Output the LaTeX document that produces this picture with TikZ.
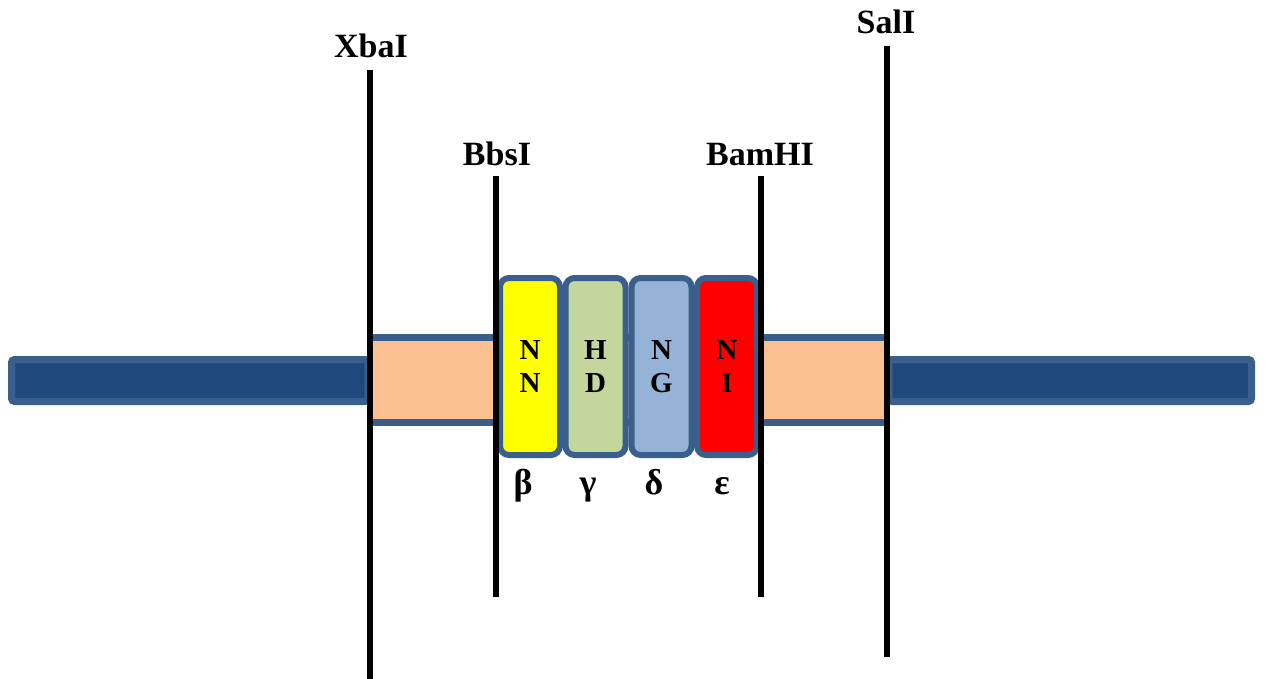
\documentclass[tikz,border=0pt]{standalone}
\usepackage{fontspec}
\setmainfont{Liberation Serif}
\definecolor{bbdark}{HTML}{1F497D}
\definecolor{bbedge}{HTML}{3A5F8C}
\definecolor{insertfill}{HTML}{FAC090}
\definecolor{rvdyellow}{HTML}{FFFF00}
\definecolor{rvdgreen}{HTML}{C3D69B}
\definecolor{rvdblue}{HTML}{95B3D7}
\definecolor{rvdred}{HTML}{FF0000}
\tikzset{
  backbone/.style={fill=bbdark, draw=bbedge, line width=7pt, rounded corners=3pt},
  rvdbox/.style={draw=bbedge, line width=6pt, rounded corners=9pt, minimum width=60pt,
    minimum height=177pt, inner sep=0pt, align=center, font=\bfseries\fontsize{29}{33}\selectfont},
  site/.style={line width=6pt, black},
  sitelabel/.style={anchor=base, inner sep=0pt, font=\bfseries\fontsize{34}{40}\selectfont},
  greek/.style={anchor=base, inner sep=0pt, font=\bfseries\fontsize{36}{40}\selectfont}
}
\begin{document}
\begin{tikzpicture}[x=1pt,y=-1pt]
\useasboundingbox (0,0) rectangle (1266,679);
% vector backbone on both sides
\draw[backbone] (11.5,359.5) rectangle (368,401.5);
\draw[backbone] (889,359.5) rectangle (1251.5,401.5);
% insert region between the outer sites
\fill[insertfill] (370,337.5) rectangle (887,422.5);
\draw[bbedge, line width=7pt] (370,337.5) -- (887,337.5);
\draw[bbedge, line width=7pt] (370,422.5) -- (887,422.5);
% repeat-variable diresidue modules
\node[rvdbox, fill=rvdyellow] (b1) at (530,366.5) {N\\N};
\node[rvdbox, fill=rvdgreen]  (b2) at (595.5,366.5) {H\\D};
\node[rvdbox, fill=rvdblue]   (b3) at (661.5,366.5) {N\\G};
\node[rvdbox, fill=rvdred]    (b4) at (727,366.5) {N\\I};
\node[greek] (g1) at (523,494) {β};
\node[greek] (g2) at (588,494) {γ};
\node[greek] (g3) at (654,494) {δ};
\node[greek] (g4) at (722,494) {ε};
% restriction sites
\coordinate (xbaT) at (370,70);  \coordinate (xbaB) at (370,679);
\coordinate (bbsT) at (496,176); \coordinate (bbsB) at (496,597);
\coordinate (bamT) at (761,176); \coordinate (bamB) at (761,597);
\coordinate (salT) at (887,46);  \coordinate (salB) at (887,657);
\draw[site] (xbaT) -- (xbaB);
\draw[site] (bbsT) -- (bbsB);
\draw[site] (bamT) -- (bamB);
\draw[site] (salT) -- (salB);
\node[sitelabel] (lxba) at (371,58) {XbaI};
\node[sitelabel] (lbbs) at (497,166) {BbsI};
\node[sitelabel] (lbam) at (760,166) {BamHI};
\node[sitelabel] (lsal) at (886,34) {SalI};
\end{tikzpicture}
\end{document}
